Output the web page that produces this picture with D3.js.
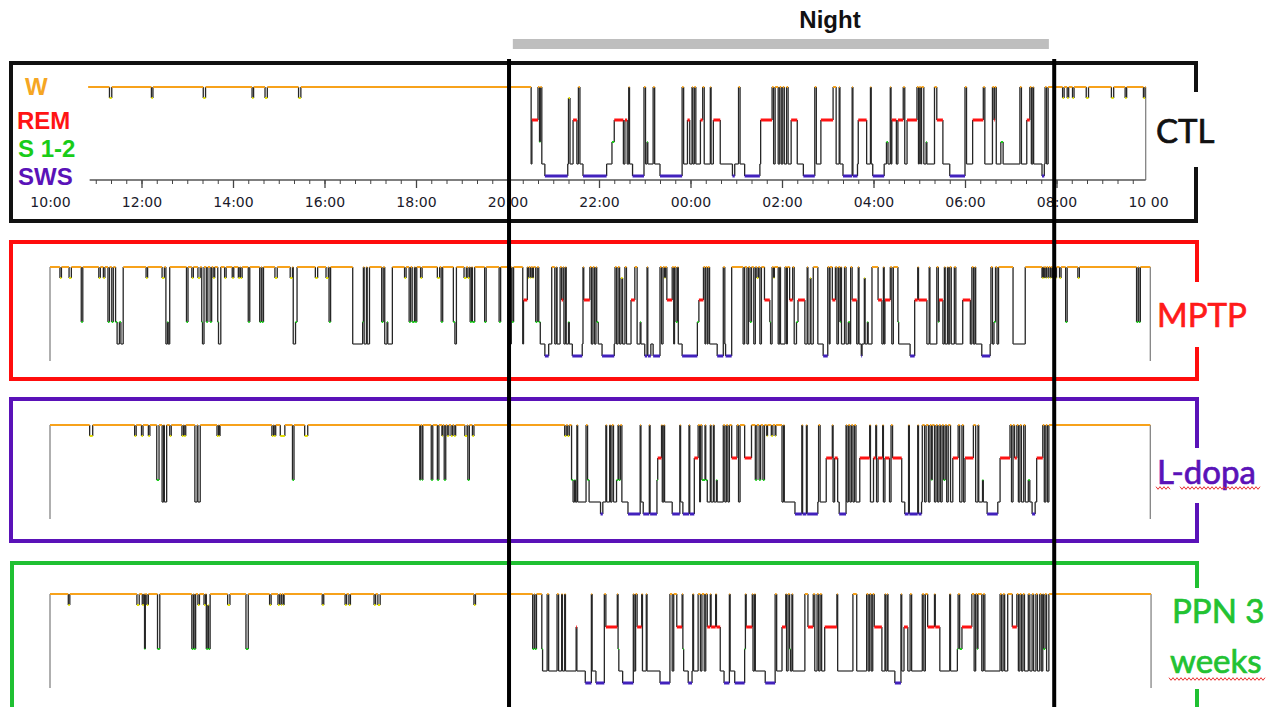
<!DOCTYPE html>
<html><head><meta charset="utf-8">
<script src="https://cdn.jsdelivr.net/npm/d3@7"></script>
<style>html,body{margin:0;padding:0;background:#fff;overflow:hidden}svg{display:block}</style>
</head><body>
<svg id="chart" width="1273" height="707"></svg>
<script>
// ---------------- DATA ----------------
const stageCodes = ["W","Q","R","1","2","3"];           // wake, quiet wake, REM, S1, S2, SWS
const legendLabels = ["W","REM","S 1-2","SWS"];
const panelNames = [["CTL"],["MPTP"],["L-dopa"],["PPN 3","weeks"]];
const tickMinutes = [0,120,240,360,480,600,720,840,960,1080,1200,1320,1440]; // minutes after 10:00
const tickLabels = ["10:00","12:00","14:00","16:00","18:00","20:00","22:00","00:00","02:00","04:00","06:00","08:00","10 00"];
const nightLabel = "Night";
const nightPeriod = [607,1310];
const lightsOffOn = [602,1317];
const recordStart = [50,0,0,0];
const recordEnd = [1437,1443,1443,1444];

const ctlHypnogram = [[50,"W"],[78,"Q"],[81,"W"],[133,"Q"],[135,"W"],[201,"Q"],[204,"W"],[265,"Q"],[267,"W"],[282,"Q"],[285,"W"],[326,"Q"],[329,"W"],
[631,"2"],[632,"R"],[640,"W"],[642,"1"],[643,"W"],[645,"2"],[649,"3"],[679,"2"],[680,"Q"],[682,"2"],[686,"R"],[691,"2"],[693,"W"],[695,"2"],[699,"3"],[730,"2"],[737,"1"],[740,"R"],[752,"2"],[754,"R"],[757,"2"],[759,"W"],[760,"2"],[764,"3"],[779,"W"],[781,"2"],[783,"1"],[784,"2"],[791,"W"],[793,"2"],[800,"3"],[829,"W"],[831,"2"],[836,"R"],[839,"2"],[842,"W"],[843,"2"],[845,"W"],[847,"2"],[853,"R"],[856,"W"],[858,"2"],[866,"W"],[867,"2"],[870,"R"],[879,"2"],[895,"3"],[898,"2"],[903,"W"],[905,"2"],[911,"3"],[931,"2"],[932,"R"],[947,"W"],[949,"2"],[951,"W"],[955,"2"],[957,"W"],[959,"2"],[961,"W"],[963,"2"],[966,"W"],[968,"2"],[972,"R"],[980,"2"],[988,"3"],[1003,"W"],[1005,"2"],[1011,"R"],[1027,"W"],[1031,"2"],[1035,"W"],[1036,"2"],[1040,"3"],[1052,"W"],[1053,"3"],[1059,"2"],[1060,"R"],[1071,"2"],[1076,"W"],[1077,"2"],[1079,"3"],[1094,"2"],[1097,"1"],[1099,"2"],[1102,"W"],[1103,"2"],[1104,"R"],[1110,"2"],[1112,"R"],[1119,"W"],[1121,"2"],[1124,"R"],[1137,"W"],[1139,"2"],[1140,"W"],[1142,"2"],[1143,"W"],[1146,"2"],[1149,"1"],[1150,"2"],[1160,"W"],[1163,"R"],[1171,"2"],[1180,"3"],[1200,"W"],[1202,"2"],[1210,"R"],[1224,"W"],[1226,"2"],[1236,"W"],[1238,"R"],[1239,"W"],[1241,"2"],[1247,"1"],[1250,"2"],[1272,"W"],[1274,"2"],[1281,"R"],[1285,"W"],[1287,"2"],[1289,"W"],[1290,"2"],[1301,"3"],[1304,"2"],[1305,"W"],[1307,"2"],[1309,"W"],
[1328,"Q"],[1330,"W"],[1334,"Q"],[1336,"W"],[1341,"Q"],[1343,"W"],[1359,"Q"],[1362,"W"],[1392,"Q"],[1395,"W"],[1410,"Q"],[1412,"W"],[1434,"Q"],[1436,"W"]];

const mptpHypnogram = [[0,"W"],[13,"Q"],[15,"W"],[25,"Q"],[28,"W"],[41,"1"],[43,"W"],[64,"Q"],[66,"W"],[70,"Q"],[72,"W"],[76,"1"],[78,"W"],[81,"1"],[83,"W"],[86,"1"],[88,"2"],[91,"1"],[93,"2"],[96,"W"],[126,"Q"],[128,"W"],[147,"Q"],[150,"W"],[152,"2"],[154,"1"],[155,"2"],[157,"W"],[179,"1"],[181,"W"],[186,"Q"],[188,"W"],[194,"Q"],[197,"W"],[199,"1"],[200,"2"],[202,"W"],[205,"1"],[207,"W"],[210,"1"],[212,"W"],[214,"Q"],[216,"W"],[220,"1"],[221,"2"],[224,"W"],[229,"Q"],[231,"W"],[239,"Q"],[241,"W"],[247,"Q"],[249,"W"],[250,"Q"],[252,"W"],[260,"1"],[262,"W"],[275,"1"],[277,"W"],[278,"1"],[280,"W"],[295,"Q"],[298,"W"],[315,"Q"],[318,"W"],[319,"2"],[322,"1"],[324,"W"],[348,"Q"],[351,"W"],[362,"Q"],[365,"W"],[366,"1"],[368,"W"],[397,"2"],[410,"1"],[411,"W"],[412,"2"],[415,"W"],[416,"2"],[419,"W"],[435,"1"],[437,"W"],[439,"2"],[442,"1"],[443,"2"],[449,"W"],[465,"Q"],[467,"W"],[471,"1"],[473,"W"],[475,"1"],[478,"W"],[479,"1"],[481,"W"],[486,"Q"],[488,"W"],[508,"Q"],[511,"W"],[513,"1"],[515,"W"],[529,"1"],[531,"2"],[533,"W"],[543,"Q"],[546,"W"],[548,"Q"],[550,"W"],[551,"1"],[553,"W"],[554,"1"],[557,"W"],[570,"1"],[572,"W"],[589,"1"],[591,"W"],[603,"2"],[605,"W"],[606,"1"],[608,"W"],
[620,"2"],[621,"R"],[626,"W"],[627,"Q"],[628,"W"],[630,"Q"],[631,"W"],[633,"Q"],[634,"W"],[637,"1"],[639,"W"],[641,"1"],[643,"2"],[649,"3"],[654,"2"],[658,"W"],[662,"2"],[664,"W"],[665,"2"],[669,"W"],[671,"R"],[673,"W"],[674,"2"],[676,"W"],[677,"2"],[680,"1"],[681,"2"],[685,"3"],[698,"2"],[699,"W"],[700,"R"],[708,"W"],[710,"2"],[712,"W"],[714,"2"],[716,"W"],[717,"1"],[719,"2"],[724,"3"],[740,"2"],[741,"W"],[743,"2"],[745,"W"],[747,"2"],[749,"Q"],[751,"2"],[754,"W"],[756,"2"],[762,"R"],[767,"W"],[770,"2"],[774,"1"],[775,"2"],[780,"3"],[783,"W"],[784,"3"],[788,"2"],[791,"3"],[800,"W"],[802,"2"],[804,"W"],[806,"Q"],[807,"W"],[809,"R"],[816,"W"],[818,"2"],[819,"W"],[821,"1"],[823,"W"],[824,"2"],[829,"3"],[849,"1"],[851,"R"],[857,"W"],[859,"2"],[860,"W"],[862,"2"],[863,"W"],[865,"2"],[875,"3"],[883,"W"],[885,"2"],[886,"3"],[894,"W"],[909,"2"],[911,"W"],[914,"2"],[916,"W"],[918,"1"],[920,"W"],[923,"2"],[925,"W"],[927,"Q"],[929,"W"],[931,"2"],[933,"W"],[937,"R"],[944,"1"],[945,"2"],[947,"W"],[949,"Q"],[950,"W"],[955,"2"],[957,"W"],[958,"2"],[964,"W"],[966,"2"],[967,"W"],[970,"R"],[974,"W"],[976,"2"],[979,"1"],[981,"R"],[990,"2"],[993,"W"],[994,"2"],[997,"Q"],[998,"2"],[1001,"W"],[1007,"2"],[1014,"3"],[1020,"W"],[1022,"2"],[1023,"W"],[1026,"R"],[1030,"W"],[1032,"2"],[1034,"W"],[1036,"1"],[1037,"W"],[1038,"2"],[1042,"W"],[1044,"2"],[1047,"1"],[1049,"2"],[1050,"W"],[1052,"R"],[1058,"2"],[1060,"W"],[1061,"2"],[1064,"3"],[1065,"2"],[1068,"Q"],[1069,"2"],[1072,"1"],[1073,"2"],[1078,"W"],[1086,"R"],[1091,"2"],[1093,"W"],[1094,"2"],[1095,"R"],[1102,"W"],[1104,"2"],[1106,"W"],[1112,"1"],[1113,"2"],[1128,"3"],[1134,"R"],[1138,"W"],[1139,"R"],[1150,"2"],[1153,"W"],[1154,"2"],[1163,"W"],[1165,"1"],[1166,"R"],[1171,"2"],[1173,"W"],[1174,"2"],[1177,"W"],[1178,"2"],[1180,"W"],[1182,"2"],[1186,"W"],[1188,"2"],[1197,"R"],[1207,"2"],[1209,"W"],[1211,"2"],[1213,"W"],[1214,"2"],[1222,"3"],[1233,"2"],[1234,"W"],[1236,"2"],[1238,"1"],[1240,"W"],[1242,"2"],[1244,"W"],[1263,"2"],[1279,"W"],[1301,"Q"],[1302,"W"],[1303,"Q"],[1304,"W"],[1306,"Q"],[1307,"W"],[1309,"Q"],[1310,"W"],[1312,"Q"],[1313,"W"],[1315,"Q"],[1316,"W"],[1318,"Q"],[1320,"W"],[1324,"Q"],[1326,"W"],[1332,"1"],[1334,"W"],[1348,"Q"],[1350,"W"],[1425,"1"],[1427,"W"],[1428,"1"],[1430,"W"]];

const ldopaHypnogram = [[0,"W"],[52,"Q"],[56,"W"],[111,"Q"],[113,"W"],[120,"Q"],[122,"W"],[129,"Q"],[131,"W"],[140,"1"],[143,"W"],[147,"2"],[149,"W"],[150,"2"],[153,"W"],[157,"Q"],[159,"W"],[173,"Q"],[175,"W"],[176,"Q"],[178,"W"],[190,"2"],[193,"W"],[194,"2"],[197,"W"],[219,"Q"],[221,"W"],[222,"Q"],[223,"W"],[291,"Q"],[293,"W"],[294,"Q"],[296,"W"],[302,"Q"],[308,"W"],[318,"1"],[320,"W"],[334,"Q"],[338,"W"],[485,"1"],[486,"W"],[488,"1"],[489,"W"],[500,"1"],[502,"W"],[508,"1"],[510,"W"],[514,"Q"],[515,"W"],[517,"1"],[519,"W"],[521,"Q"],[523,"W"],[526,"Q"],[528,"W"],[530,"Q"],[532,"W"],[544,"Q"],[547,"W"],[548,"1"],[550,"W"],[554,"Q"],[556,"W"],
[675,"Q"],[677,"W"],[679,"Q"],[681,"W"],[684,"1"],[686,"2"],[688,"1"],[689,"2"],[691,"W"],[692,"2"],[703,"W"],[705,"1"],[707,"2"],[722,"3"],[725,"2"],[729,"W"],[730,"2"],[734,"W"],[735,"2"],[737,"W"],[739,"2"],[743,"1"],[745,"W"],[746,"1"],[748,"W"],[750,"2"],[758,"3"],[774,"W"],[775,"2"],[778,"3"],[786,"W"],[787,"3"],[796,"1"],[797,"R"],[802,"W"],[803,"2"],[805,"W"],[806,"2"],[816,"3"],[826,"W"],[827,"2"],[830,"3"],[838,"W"],[839,"3"],[845,"R"],[850,"W"],[852,"2"],[853,"W"],[855,"1"],[859,"W"],[860,"1"],[862,"2"],[866,"W"],[867,"2"],[870,"W"],[871,"2"],[874,"1"],[875,"2"],[883,"W"],[885,"2"],[887,"W"],[889,"2"],[891,"W"],[894,"R"],[901,"W"],[903,"2"],[905,"W"],[911,"R"],[920,"W"],[925,"1"],[927,"W"],[930,"1"],[932,"W"],[935,"1"],[937,"W"],[940,"Q"],[941,"W"],[946,"Q"],[948,"W"],[951,"Q"],[952,"W"],[960,"2"],[962,"W"],[963,"2"],[977,"3"],[986,"W"],[987,"3"],[992,"W"],[993,"3"],[1007,"2"],[1008,"W"],[1010,"2"],[1018,"R"],[1026,"W"],[1027,"2"],[1029,"R"],[1033,"2"],[1035,"3"],[1044,"W"],[1045,"2"],[1047,"W"],[1049,"2"],[1051,"W"],[1053,"2"],[1055,"W"],[1057,"2"],[1062,"R"],[1075,"W"],[1076,"2"],[1080,"R"],[1083,"W"],[1084,"2"],[1086,"R"],[1092,"W"],[1093,"2"],[1095,"R"],[1101,"2"],[1103,"W"],[1105,"R"],[1117,"2"],[1121,"3"],[1126,"W"],[1127,"3"],[1138,"W"],[1139,"3"],[1143,"2"],[1144,"W"],[1147,"2"],[1149,"W"],[1152,"2"],[1154,"W"],[1156,"1"],[1157,"W"],[1160,"2"],[1162,"W"],[1164,"2"],[1166,"W"],[1168,"2"],[1170,"W"],[1172,"1"],[1174,"W"],[1176,"2"],[1178,"W"],[1181,"2"],[1184,"R"],[1191,"W"],[1193,"2"],[1196,"W"],[1198,"2"],[1200,"R"],[1211,"W"],[1214,"2"],[1217,"W"],[1218,"2"],[1223,"1"],[1224,"2"],[1229,"3"],[1243,"2"],[1246,"R"],[1259,"W"],[1261,"2"],[1263,"W"],[1265,"R"],[1268,"W"],[1270,"2"],[1272,"W"],[1274,"2"],[1277,"W"],[1279,"2"],[1283,"1"],[1285,"2"],[1288,"3"],[1292,"2"],[1294,"R"],[1302,"W"],[1304,"2"],[1306,"W"],[1308,"2"],[1310,"W"]];

const ppnHypnogram = [[0,"W"],[24,"Q"],[26,"W"],[114,"Q"],[117,"W"],[121,"Q"],[123,"W"],[124,"1"],[125,"W"],[127,"Q"],[129,"W"],[141,"1"],[144,"W"],[186,"1"],[188,"W"],[189,"1"],[191,"W"],[194,"Q"],[196,"W"],[202,"Q"],[204,"W"],[205,"1"],[207,"Q"],[208,"1"],[210,"W"],[233,"Q"],[236,"W"],[257,"1"],[260,"W"],[288,"Q"],[290,"W"],[299,"Q"],[301,"W"],[303,"Q"],[304,"W"],[306,"Q"],[307,"W"],[357,"Q"],[359,"W"],[387,"Q"],[389,"W"],[392,"Q"],[394,"W"],[425,"Q"],[427,"W"],[430,"Q"],[433,"W"],[556,"Q"],[558,"W"],
[633,"1"],[635,"W"],[636,"1"],[638,"W"],[645,"1"],[646,"2"],[652,"W"],[654,"2"],[665,"W"],[667,"2"],[671,"W"],[672,"2"],[675,"W"],[676,"2"],[690,"R"],[691,"2"],[702,"3"],[710,"W"],[711,"2"],[716,"3"],[727,"W"],[729,"R"],[744,"W"],[745,"1"],[746,"2"],[751,"3"],[765,"W"],[766,"2"],[768,"W"],[770,"R"],[776,"W"],[777,"2"],[782,"W"],[783,"2"],[800,"3"],[813,"W"],[816,"2"],[818,"W"],[822,"R"],[829,"W"],[830,"1"],[831,"2"],[837,"3"],[842,"2"],[843,"W"],[844,"2"],[850,"W"],[853,"2"],[855,"W"],[858,"2"],[860,"W"],[862,"R"],[866,"W"],[867,"R"],[873,"W"],[874,"R"],[879,"2"],[884,"3"],[891,"W"],[892,"2"],[898,"3"],[911,"1"],[912,"W"],[913,"R"],[921,"W"],[922,"2"],[924,"W"],[925,"2"],[938,"3"],[951,"W"],[953,"2"],[960,"R"],[965,"W"],[966,"2"],[968,"W"],[970,"1"],[971,"2"],[973,"W"],[974,"2"],[990,"W"],[994,"R"],[1001,"W"],[1003,"2"],[1006,"W"],[1008,"2"],[1010,"W"],[1012,"2"],[1016,"R"],[1032,"W"],[1033,"2"],[1053,"W"],[1058,"2"],[1071,"W"],[1073,"2"],[1075,"W"],[1077,"2"],[1079,"W"],[1081,"R"],[1091,"2"],[1095,"W"],[1096,"2"],[1098,"W"],[1099,"2"],[1108,"3"],[1116,"W"],[1117,"2"],[1120,"R"],[1125,"2"],[1128,"W"],[1130,"2"],[1144,"W"],[1146,"2"],[1148,"W"],[1151,"R"],[1160,"W"],[1161,"R"],[1167,"2"],[1180,"W"],[1181,"2"],[1190,"1"],[1191,"W"],[1193,"1"],[1196,"R"],[1209,"W"],[1212,"2"],[1214,"W"],[1216,"1"],[1217,"W"],[1222,"2"],[1224,"W"],[1226,"2"],[1246,"W"],[1248,"2"],[1250,"W"],[1252,"2"],[1256,"W"],[1262,"R"],[1268,"W"],[1270,"2"],[1272,"W"],[1274,"2"],[1276,"W"],[1278,"2"],[1283,"W"],[1285,"2"],[1288,"W"],[1290,"2"],[1293,"W"],[1295,"2"],[1298,"W"],[1300,"2"],[1302,"W"],[1303,"1"],[1305,"W"],[1307,"2"],[1310,"W"]];

const hypnograms = [ctlHypnogram, mptpHypnogram, ldopaHypnogram, ppnHypnogram];

// ---------------- LAYOUT / STYLE ----------------
const svg = d3.select("#chart");
const x = d3.scaleLinear().domain([0,1440]).range([50,1148]);
const depth = d3.scaleOrdinal().domain(stageCodes).range([0,11,33,55,77,89]);
const bottomDepth = 94;
const stageColor = d3.scaleOrdinal().domain(stageCodes)
  .range(["#f7a21b","#e4e000","#ff1414","#19cc19","#3a3a3a","#4222bd"]);
const stageWidth = d3.scaleOrdinal().domain(stageCodes).range([2,2,3,2,1.3,3]);

const panels = [
  {wake:87,  color:"#111111", box:[11,63,1196,221], gap:[92,167],  labelX:[1156], labelY:[143], labelColor:"#111111"},
  {wake:267, color:"#ff0d0d", box:[11,242,1197,379], gap:[282,347], labelX:[1157], labelY:[327], labelColor:"#ff1a1a"},
  {wake:425, color:"#5a12b8", box:[11,399,1197,541], gap:[448,503], labelX:[1157], labelY:[484], labelColor:"#5a12b8"},
  {wake:594, color:"#20c032", box:[12,563,1197,711], gap:[588,689], labelX:[1172,1170], labelY:[623,673], labelColor:"#22c232"}
];

// panel frames
panels.forEach(p=>{
  const [l,t,r,b]=p.box;
  svg.append("path")
    .attr("d",`M${r},${p.gap[0]}V${t}H${l}V${b}H${r}V${p.gap[1]}`)
    .attr("fill","none").attr("stroke",p.color).attr("stroke-width",4);
});

// hypnograms
hypnograms.forEach((data,pi)=>{
  const p = panels[pi];
  const g = svg.append("g").attr("transform",`translate(0,${p.wake})`);
  const end = recordEnd[pi];
  const segs = data.map((d,i)=>({t0:d[0], t1: i<data.length-1 ? data[i+1][0] : end, s:d[1], next: i<data.length-1 ? data[i+1][1] : null}));
  const bounds = pi===0 ? [end] : [recordStart[pi], end];
  g.selectAll("line.b").data(bounds).join("line").attr("class","b")
    .attr("x1",d=>x(d)).attr("x2",d=>x(d)).attr("y1",0).attr("y2",pi===0?93:bottomDepth)
    .attr("stroke","#7a7a7a").attr("stroke-width",1.2);
  g.selectAll("line.v").data(segs.filter(s=>s.next)).join("line").attr("class","v")
    .attr("x1",d=>x(d.t1)).attr("x2",d=>x(d.t1))
    .attr("y1",d=>depth(d.s)).attr("y2",d=>depth(d.next))
    .attr("stroke","#262626").attr("stroke-width",1.3);
  g.selectAll("line.h").data(segs).join("line").attr("class","h")
    .attr("x1",d=>x(d.t0)).attr("x2",d=>x(d.t1))
    .attr("y1",d=>depth(d.s)).attr("y2",d=>depth(d.s))
    .attr("stroke",d=>stageColor(d.s)).attr("stroke-width",d=>stageWidth(d.s));
});

// CTL axis
const axisY = panels[0].wake + 93;
const axG = svg.append("g").attr("transform",`translate(0,${axisY})`);
axG.append("line").attr("x1",x(recordStart[0]+2)).attr("x2",x(recordEnd[0])).attr("y1",0).attr("y2",0)
  .attr("stroke","#555").attr("stroke-width",1.5);
const minor = d3.range(60,1440,20);
const major = tickMinutes.filter(m=>m>0 && m<1440);
axG.append("g").call(d3.axisBottom(x).tickValues(minor).tickSize(4).tickFormat(""))
  .call(g=>g.select(".domain").remove()).selectAll("line").attr("stroke","#444");
axG.append("g").call(d3.axisBottom(x).tickValues(major).tickSize(8).tickFormat(""))
  .call(g=>g.select(".domain").remove()).selectAll("line").attr("stroke","#444").attr("stroke-width",1.3);
axG.append("g").call(d3.axisBottom(x).tickValues(tickMinutes).tickSize(0).tickPadding(17).tickFormat((d,i)=>tickLabels[i]))
  .call(g=>g.select(".domain").remove())
  .selectAll("text").attr("font-family","DejaVu Sans, Verdana, sans-serif").attr("font-size",14).attr("fill","#1a1a2a");

// legend in CTL
const legendFill = ["#f5a623", stageColor("R"), stageColor("1"), "#5a12b8"];
const legendPos = [[25,95],[17,129],[18,157],[18,185]];
svg.append("g").selectAll("text").data(legendLabels).join("text")
  .attr("x",(d,i)=>legendPos[i][0]).attr("y",(d,i)=>legendPos[i][1])
  .attr("font-family","Liberation Sans, Arial, sans-serif").attr("font-weight","bold").attr("font-size",24)
  .attr("fill",(d,i)=>legendFill[i])
  .text(d=>d);

// panel labels
panels.forEach((p,pi)=>{
  panelNames[pi].forEach((line,li)=>{
    svg.append("text").attr("x",p.labelX[li]).attr("y",p.labelY[li])
      .attr("font-family","Lato, Open Sans, sans-serif").attr("font-size",33)
      .attr("fill",p.labelColor).attr("stroke",p.labelColor).attr("stroke-width",0.7).text(line);
  });
});

// spell-check style wavy underlines
function wavy(x0,x1,y){
  const pts=[]; for(let xx=x0,i=0; xx<=x1; xx+=2,i++) pts.push([xx, y+(i%2?1.3:-1.3)]);
  svg.append("path").attr("d",d3.line()(pts)).attr("fill","none").attr("stroke","#e83030").attr("stroke-width",1);
}
wavy(1156,1170,488); wavy(1180,1260,488); wavy(1169,1266,679);

// night bar
svg.append("rect").attr("x",x(nightPeriod[0])).attr("width",x(nightPeriod[1])-x(nightPeriod[0]))
  .attr("y",39).attr("height",10).attr("fill","#bebebe");
svg.append("text").attr("x",830).attr("y",28).attr("text-anchor","middle")
  .attr("font-family","Liberation Sans, Arial, sans-serif").attr("font-weight","bold").attr("font-size",24)
  .attr("fill","#111").text(nightLabel);

// lights off / on lines
svg.selectAll("line.night").data(lightsOffOn).join("line").attr("class","night")
  .attr("x1",d=>x(d)).attr("x2",d=>x(d)).attr("y1",59).attr("y2",707)
  .attr("stroke","#000").attr("stroke-width",4);
</script>
</body></html>
